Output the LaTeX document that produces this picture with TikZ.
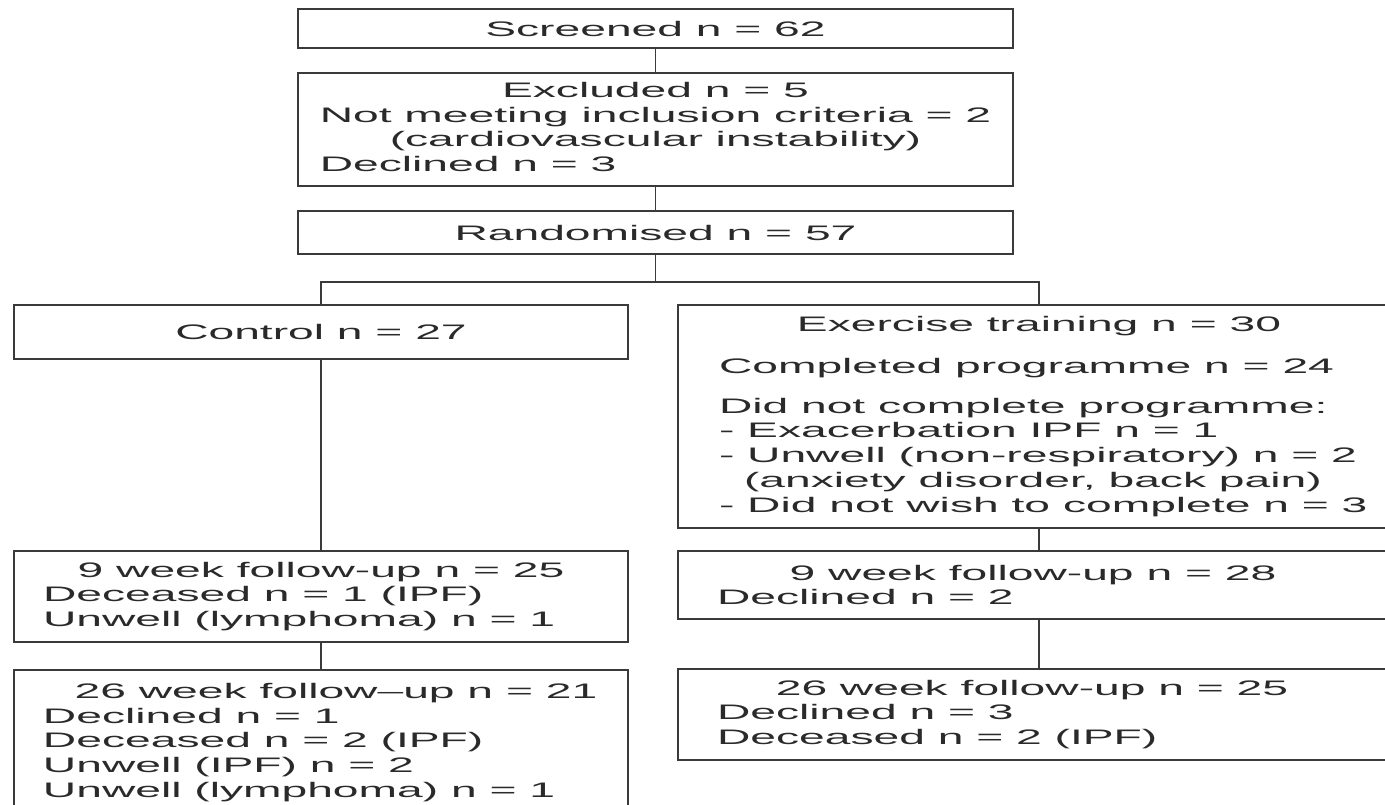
\documentclass[tikz,border=0pt]{standalone}
\usepackage{fontspec}
\setmainfont{Liberation Sans}[FakeStretch=2.2]
\definecolor{ink}{HTML}{2A2A2A}
\definecolor{rule}{HTML}{3A3A3A}
% a centred heading line and a left-set line, both of a fixed width
\newcommand\headline[2]{\makebox[#1][c]{#2}}
\newcommand\bodyline[2]{\makebox[#1][l]{#2}}
\begin{document}
\begin{tikzpicture}[x=1pt,y=-1pt,
  box/.style={draw=rule, line width=1.3pt, inner sep=0pt, text=ink,
    font=\fontsize{21}{24.75}\selectfont, minimum width=#1},
  link/.style={draw=rule, line width=1.3pt}]
\useasboundingbox (0,0) rectangle (1385,805);
\clip (0,0) rectangle (1385,805);

% enrolment
\node[box=715pt, minimum height=39pt] (screen) at (655.5,28.5) {Screened n = 62};
\node[box=715pt, minimum height=113pt] (excl) at (655.5,129.5)
  {\begin{tabular}{@{}c@{}}Excluded n = 5\\ Not meeting inclusion criteria = 2\\ (cardiovascular instability)\\ \multicolumn{1}{@{}l@{}}{Declined n = 3}\end{tabular}};
\node[box=715pt, minimum height=43pt] (rand) at (655.5,232.5) {Randomised n = 57};

% allocation
\node[box=614pt, minimum height=54pt] (control) at (321,332) {Control n = 27};
\node[box=722pt, minimum height=223pt, align=left] (exer) at (1039,416.5)
  {\headline{640pt}{Exercise training n = 30}\\[17pt]
   \bodyline{640pt}{Completed programme n = 24}\\[15pt]
   \bodyline{640pt}{Did not complete programme:}\\
   \bodyline{640pt}{- Exacerbation IPF n = 1}\\
   \bodyline{640pt}{- Unwell (non-respiratory) n = 2}\\
   \bodyline{640pt}{\hspace*{25pt}(anxiety disorder, back pain)}\\
   \bodyline{640pt}{- Did not wish to complete n = 3}};

% follow-up, control arm
\node[box=614pt, minimum height=91pt, align=left] (c9) at (321,596.5)
  {\headline{556pt}{9 week follow-up n = 25}\\
   \bodyline{556pt}{Deceased n = 1 (IPF)}\\
   \bodyline{556pt}{Unwell (lymphoma) n = 1}};
\node[box=614pt, minimum height=145pt, align=left] (c26) at (321,742.5)
  {\headline{556pt}{\hspace*{30pt}26 week follow–up n = 21}\\
   \bodyline{556pt}{Declined n = 1}\\
   \bodyline{556pt}{Deceased n = 2 (IPF)}\\
   \bodyline{556pt}{Unwell (IPF) n = 2}\\
   \bodyline{556pt}{Unwell (lymphoma) n = 1}};

% follow-up, exercise arm
\node[box=722pt, minimum height=68pt, align=left] (e9) at (1039,585)
  {\headline{644pt}{9 week follow-up n = 28\hspace*{12pt}}\\
   \bodyline{644pt}{Declined n = 2}};
\node[box=722pt, minimum height=91pt, align=left] (e26) at (1039,714.5)
  {\headline{644pt}{26 week follow-up n = 25\hspace*{14pt}}\\
   \bodyline{644pt}{Declined n = 3}\\
   \bodyline{644pt}{Deceased n = 2 (IPF)}};

% connectors
\coordinate (split) at (655.5,282);
\draw[link] (screen.south) -- (excl.north);
\draw[link] (excl.south) -- (rand.north);
\draw[link] (rand.south) -- (split);
\draw[link] (control.north) -- (control.north |- split) -- (exer.north |- split) -- (exer.north);
\draw[link] (control.south) -- (c9.north);
\draw[link] (c9.south) -- (c26.north);
\draw[link] (exer.south) -- (e9.north);
\draw[link] (e9.south) -- (e26.north);
\end{tikzpicture}
\end{document}
